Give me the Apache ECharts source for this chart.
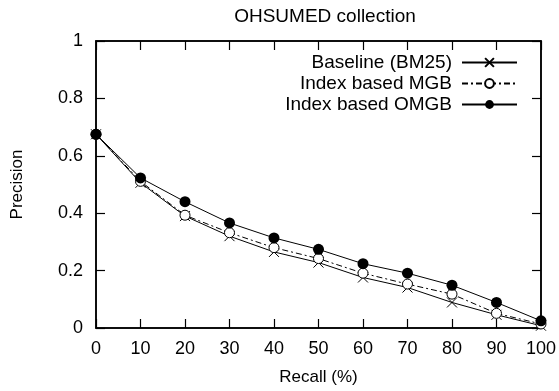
<!DOCTYPE html>
<html>
<head>
<meta charset="utf-8">
<script src="https://cdn.jsdelivr.net/npm/echarts@6/dist/echarts.min.js"></script>
<style>
html, body { margin: 0; padding: 0; background: #fff; }
#main { width: 559px; height: 391px; }
</style>
</head>
<body>
<div id="main"></div>
<script>
var recall = [0, 10, 20, 30, 40, 50, 60, 70, 80, 90, 100];
var baseline = [0.675, 0.506, 0.39, 0.32, 0.265, 0.228, 0.176, 0.141, 0.089, 0.046, 0.008];
var mgb = [0.675, 0.511, 0.393, 0.332, 0.28, 0.242, 0.191, 0.153, 0.118, 0.051, 0.014];
var omgb = [0.675, 0.523, 0.44, 0.366, 0.314, 0.274, 0.224, 0.191, 0.149, 0.089, 0.025];

function pairs(ys) {
    return recall.map(function (x, i) { return [x, ys[i]]; });
}

var font = 'Liberation Sans, Arial, Helvetica, sans-serif';
var myChart = echarts.init(document.getElementById('main'));

function axisLine() {
    return { show: true, onZero: false, lineStyle: { color: '#000', width: 1.5 } };
}
function tick() {
    return { show: true, inside: true, length: 9, lineStyle: { color: '#000', width: 1.2 } };
}

option = {
    backgroundColor: '#fff',
    animation: false,
    title: {
        text: 'OHSUMED collection',
        left: 320, top: 2, textAlign: 'center',
        textStyle: { fontFamily: font, fontSize: 19, fontWeight: 'normal', color: '#000' }
    },
    // frame drawn by the grid border
    grid: { left: 96, right: 17, top: 41, bottom: 62, show: true, borderColor: '#000', borderWidth: 1.5 },
    legend: {
        orient: 'vertical', align: 'right', right: 36, top: 48,
        itemWidth: 55, itemHeight: 11, itemGap: 2,
        textStyle: { fontFamily: font, fontSize: 19, color: '#000', padding: [0, 5, 0, 0] },
        data: ['Baseline (BM25)', 'Index based MGB', 'Index based OMGB']
    },
    xAxis: [{
        type: 'value', min: 0, max: 100, interval: 10,
        name: 'Recall (%)', nameLocation: 'middle', nameGap: 41,
        nameTextStyle: { fontFamily: font, fontSize: 17, color: '#000' },
        axisLine: axisLine(), axisTick: tick(), splitLine: { show: false },
        axisLabel: { fontFamily: font, fontSize: 18, color: '#000', margin: 12 }
    }, {
        type: 'value', min: 0, max: 100, interval: 10, position: 'top',
        axisLine: axisLine(), axisTick: tick(), splitLine: { show: false },
        axisLabel: { show: false }
    }],
    yAxis: [{
        type: 'value', min: 0, max: 1, interval: 0.2,
        name: 'Precision', nameLocation: 'middle', nameGap: 70, nameRotate: 90,
        nameTextStyle: { fontFamily: font, fontSize: 17, color: '#000' },
        axisLine: axisLine(), axisTick: tick(), splitLine: { show: false },
        axisLabel: { fontFamily: font, fontSize: 18, color: '#000', margin: 13 }
    }, {
        type: 'value', min: 0, max: 1, interval: 0.2, position: 'right',
        axisLine: axisLine(), axisTick: tick(), splitLine: { show: false },
        axisLabel: { show: false }
    }],
    series: [{
        name: 'Baseline (BM25)', type: 'line', clip: false,
        data: pairs(baseline),
        symbol: 'path://M0,0L10,10M10,0L0,10', symbolSize: 10,
        itemStyle: { color: 'none', borderColor: '#000', borderWidth: 1 },
        lineStyle: { color: '#000', width: 1 }
    }, {
        name: 'Index based MGB', type: 'line', clip: false,
        data: pairs(mgb),
        symbol: 'circle', symbolSize: 10,
        itemStyle: { color: '#fff', borderColor: '#000', borderWidth: 1 },
        lineStyle: { color: '#000', width: 1, type: [6, 3, 2, 3] }
    }, {
        name: 'Index based OMGB', type: 'line', clip: false,
        data: pairs(omgb),
        symbol: 'circle', symbolSize: 11,
        itemStyle: { color: '#000', borderColor: '#000', borderWidth: 0 },
        lineStyle: { color: '#000', width: 1 }
    }]
};
myChart.setOption(option);
</script>
</body>
</html>
